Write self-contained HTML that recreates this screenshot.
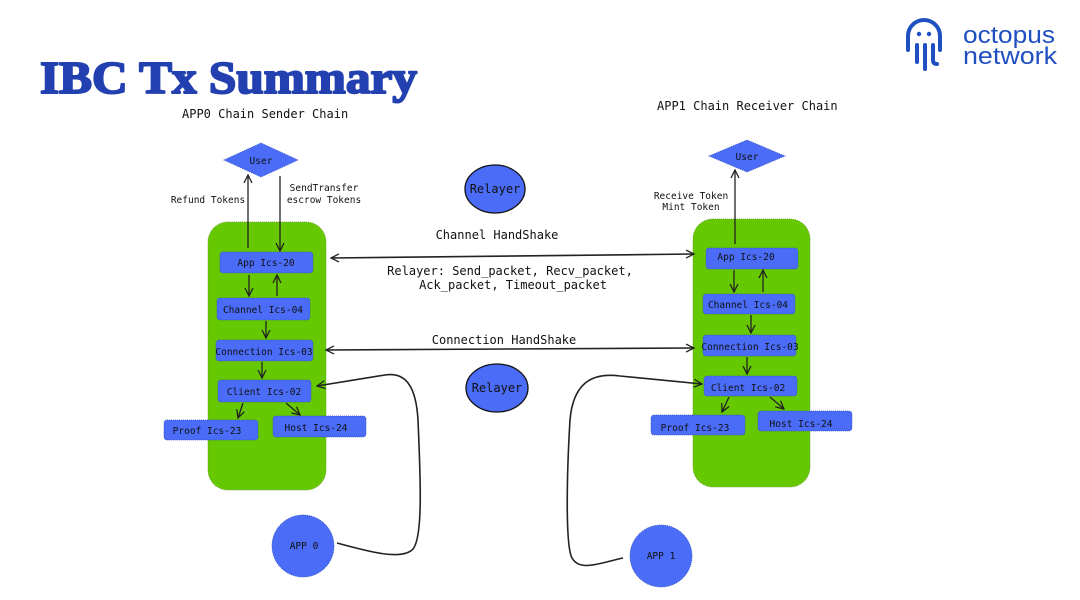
<!DOCTYPE html>
<html><head><meta charset="utf-8"><style>
html,body{margin:0;padding:0;background:#fff;}
svg{display:block}
.m{font-family:"DejaVu Sans Mono","Liberation Mono",monospace;fill:#111;}
</style></head><body>
<svg width="1080" height="600" viewBox="0 0 1080 600" xmlns="http://www.w3.org/2000/svg">
<defs>
<marker id="a" markerWidth="10" markerHeight="10" refX="9" refY="5" orient="auto" markerUnits="userSpaceOnUse"><path d="M1,1 L9,5 L1,9" fill="none" stroke="#222" stroke-width="1.3"/></marker>
<marker id="s" markerWidth="10" markerHeight="10" refX="1" refY="5" orient="auto" markerUnits="userSpaceOnUse"><path d="M9,1 L1,5 L9,9" fill="none" stroke="#222" stroke-width="1.3"/></marker>
</defs>
<!-- title -->
<text x="40" y="93" font-family="Liberation Serif, serif" font-weight="bold" font-size="46" fill="#2340b0" stroke="#2340b0" stroke-width="2" stroke-linejoin="round" textLength="377" lengthAdjust="spacingAndGlyphs">IBC Tx Summary</text>
<!-- logo -->
<g fill="none" stroke="#1f4fc0" stroke-width="4" stroke-linecap="round">
<path d="M908,50 V36 a16,16 0 0 1 32,0 V50"/>
<path d="M917,45 V62"/><path d="M925,45 V69"/><path d="M933,45 V60 q0,4 4,4"/>
</g>
<circle cx="919" cy="34" r="2.2" fill="#1f4fc0"/><circle cx="929" cy="34" r="2.2" fill="#1f4fc0"/>
<text x="963" y="43" font-family="Liberation Sans, sans-serif" font-size="24" fill="#1f4fc0" textLength="92" lengthAdjust="spacingAndGlyphs">octopus</text>
<text x="963" y="64" font-family="Liberation Sans, sans-serif" font-size="24" fill="#1f4fc0" textLength="94" lengthAdjust="spacingAndGlyphs">network</text>

<text class="m" x="182" y="118" font-size="12">APP0 Chain Sender Chain</text>
<text class="m" x="657" y="110" font-size="12">APP1 Chain Receiver Chain</text>

<!-- green panels -->
<rect x="208" y="222" width="118" height="268" rx="20" fill="#66c800" stroke="#5a9a20" stroke-dasharray="1 1" stroke-width="0.8"/>
<rect x="693" y="219" width="117" height="268" rx="20" fill="#66c800" stroke="#5a9a20" stroke-dasharray="1 1" stroke-width="0.8"/>

<g fill="#4a6cf7" stroke="#3050c0" stroke-dasharray="1 1" stroke-width="0.8">
<rect x="220" y="252" width="93" height="21" rx="3"/>
<rect x="217" y="298" width="93" height="22" rx="3"/>
<rect x="216" y="340" width="97" height="21" rx="3"/>
<rect x="218" y="380" width="93" height="22" rx="3"/>
<rect x="164" y="420" width="94" height="20" rx="3"/>
<rect x="273" y="416" width="93" height="21" rx="3"/>
<rect x="706" y="248" width="92" height="21" rx="3"/>
<rect x="703" y="294" width="92" height="20" rx="3"/>
<rect x="703" y="335" width="93" height="21" rx="3"/>
<rect x="704" y="376" width="93" height="20" rx="3"/>
<rect x="651" y="415" width="94" height="20" rx="3"/>
<rect x="758" y="411" width="94" height="20" rx="3"/>
<path d="M224,160 L261,143 L298,160 L261,177 Z"/>
<path d="M709,156 L747,140 L785,156 L747,172 Z"/>
<circle cx="303" cy="546" r="31"/>
<circle cx="661" cy="556" r="31"/>
</g>
<ellipse cx="495" cy="189" rx="30" ry="24" fill="#4a6cf7" stroke="#111" stroke-width="1.3"/>
<ellipse cx="497" cy="388" rx="31" ry="24" fill="#4a6cf7" stroke="#111" stroke-width="1.3"/>

<g class="m" font-size="9.5" text-anchor="middle">
<text x="261" y="164">User</text>
<text x="747" y="160">User</text>
<text x="266" y="266">App Ics-20</text>
<text x="263" y="313">Channel Ics-04</text>
<text x="264" y="355">Connection Ics-03</text>
<text x="264" y="395">Client Ics-02</text>
<text x="207" y="434">Proof Ics-23</text>
<text x="316" y="431">Host Ics-24</text>
<text x="746" y="260">App Ics-20</text>
<text x="748" y="308">Channel Ics-04</text>
<text x="750" y="350">Connection Ics-03</text>
<text x="748" y="391">Client Ics-02</text>
<text x="695" y="431">Proof Ics-23</text>
<text x="801" y="427">Host Ics-24</text>
<text x="304" y="549">APP 0</text>
<text x="661" y="559">APP 1</text>
<text x="208" y="203">Refund Tokens</text>
<text x="324" y="191">SendTransfer</text>
<text x="324" y="203">escrow Tokens</text>
<text x="691" y="199">Receive Token</text>
<text x="691" y="210">Mint Token</text>
</g>
<g class="m" font-size="12" text-anchor="middle">
<text x="495" y="193">Relayer</text>
<text x="497" y="392">Relayer</text>
<text x="497" y="239">Channel HandShake</text>
<text x="510" y="275">Relayer: Send_packet, Recv_packet,</text>
<text x="513" y="289">Ack_packet, Timeout_packet</text>
<text x="504" y="344">Connection HandShake</text>
</g>

<g fill="none" stroke="#222" stroke-width="1.3">
<path d="M248,248 V175" marker-end="url(#a)"/>
<path d="M280,176 V251" marker-end="url(#a)"/>
<path d="M249,275 V296" marker-end="url(#a)"/>
<path d="M277,296 V275" marker-end="url(#a)"/>
<path d="M266,321 V338" marker-end="url(#a)"/>
<path d="M262,362 V378" marker-end="url(#a)"/>
<path d="M243,403 L238,418" marker-end="url(#a)"/>
<path d="M286,403 L300,415" marker-end="url(#a)"/>
<path d="M735,244 V170" marker-end="url(#a)"/>
<path d="M734,270 V292" marker-end="url(#a)"/>
<path d="M763,292 V270" marker-end="url(#a)"/>
<path d="M751,315 V333" marker-end="url(#a)"/>
<path d="M747,357 V374" marker-end="url(#a)"/>
<path d="M729,397 L722,412" marker-end="url(#a)"/>
<path d="M770,397 L784,409" marker-end="url(#a)"/>
<path d="M331,258 L694,254" marker-start="url(#s)" marker-end="url(#a)" stroke-width="1.6"/>
<path d="M326,350 L694,348" marker-start="url(#s)" marker-end="url(#a)" stroke-width="1.6"/>
<path d="M337,543 C370,552 400,560 412,550 C424,540 420,470 418,420 C416,385 405,372 385,375 L317,386" marker-end="url(#a)" stroke-width="1.6"/>
<path d="M623,558 C600,563 580,572 572,558 C565,545 567,470 570,420 C573,385 590,372 620,376 L702,384" marker-end="url(#a)" stroke-width="1.6"/>
</g>
</svg>
</body></html>
